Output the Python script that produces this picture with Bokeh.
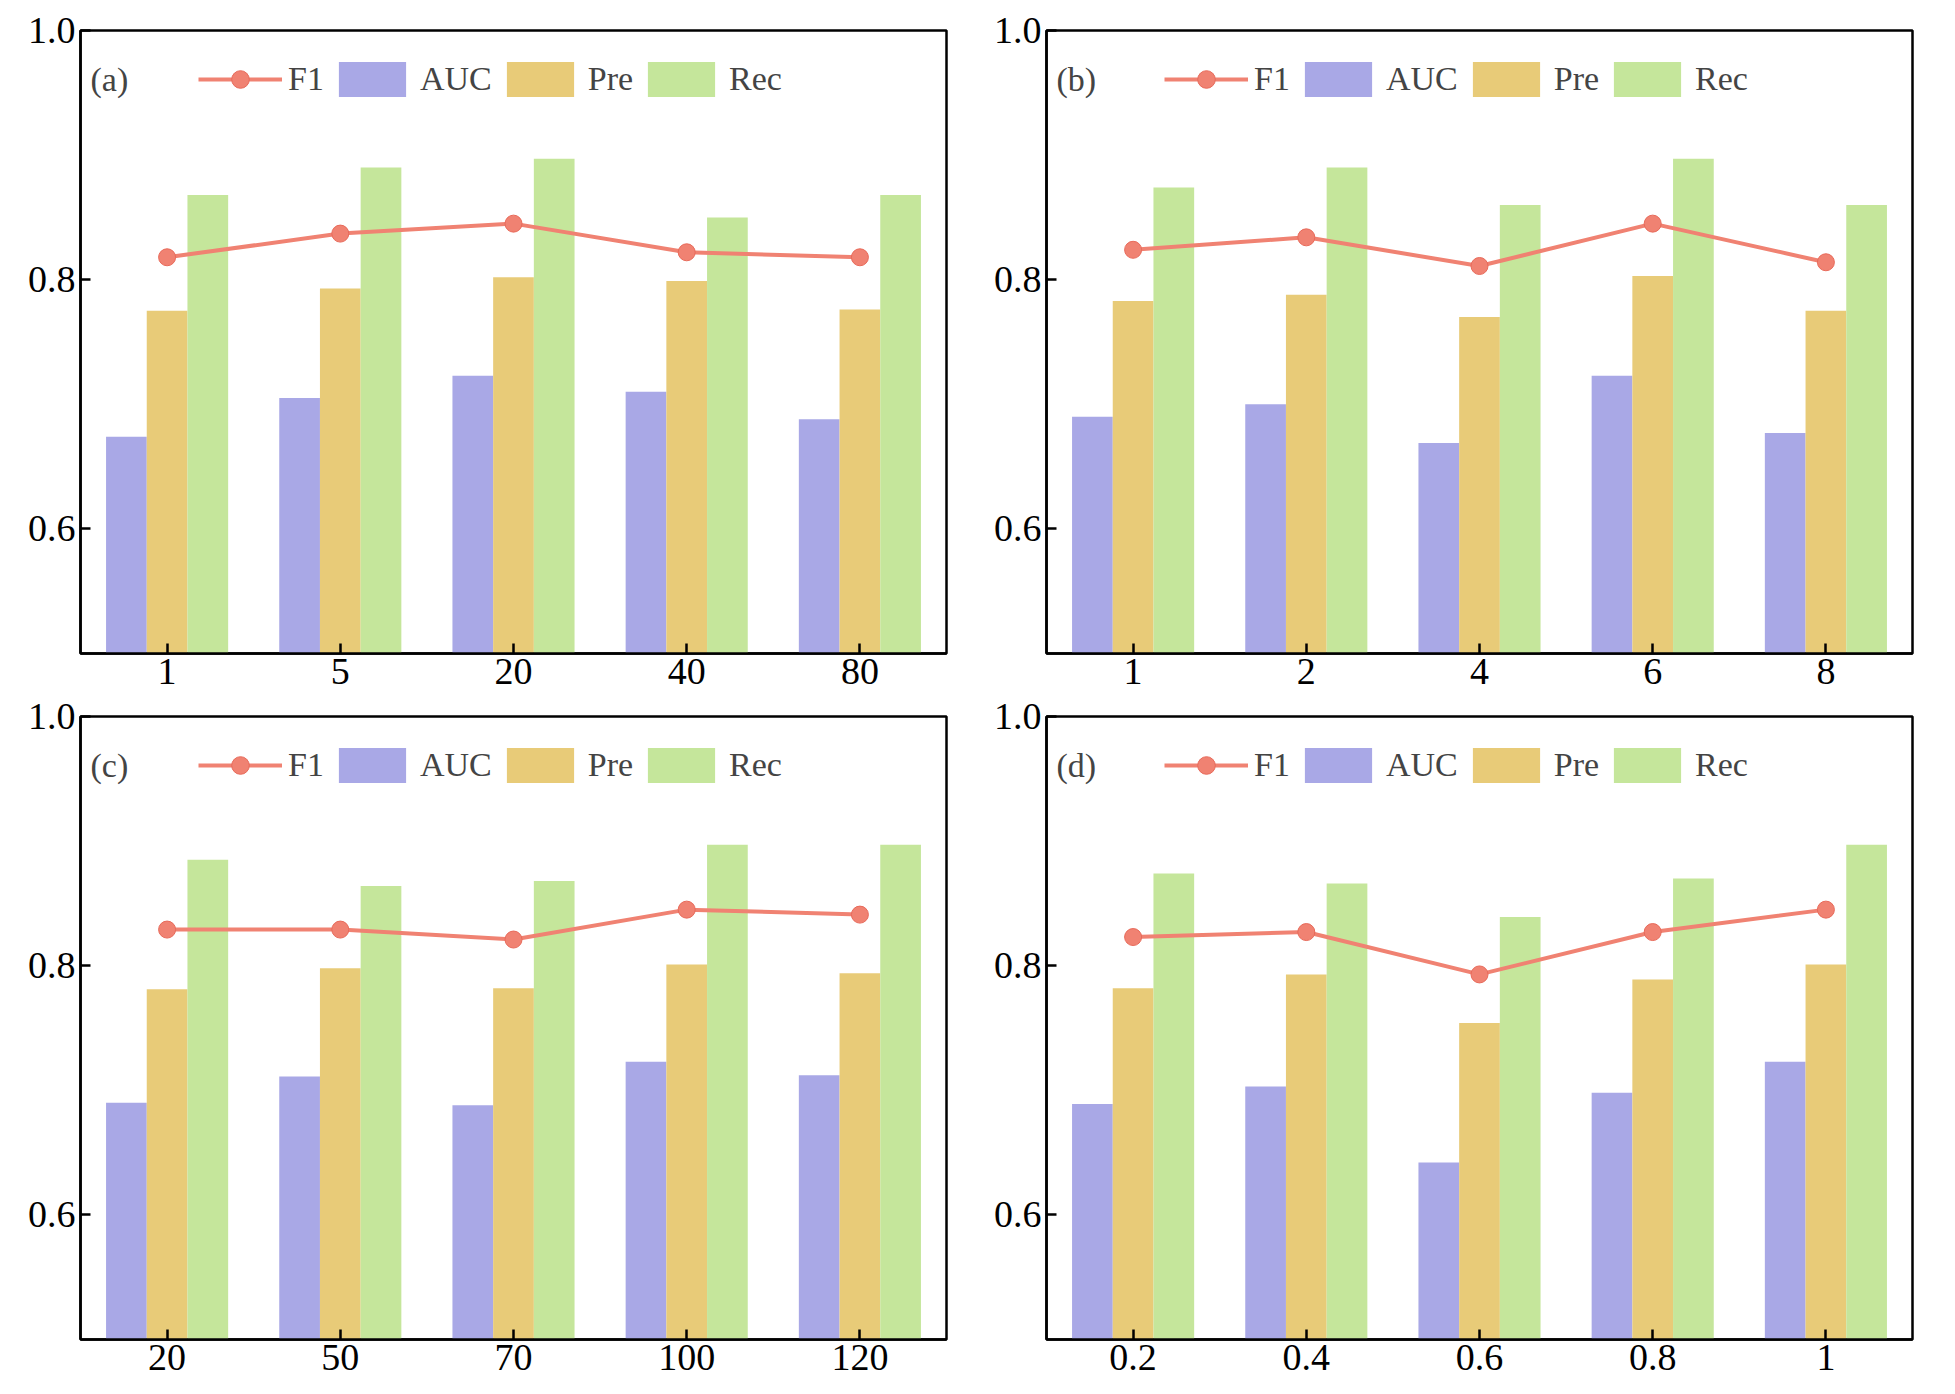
from bokeh.plotting import figure
from bokeh.layouts import gridplot
from bokeh.models import Range1d, FixedTicker, Legend, LegendItem, Label, CustomJSTickFormatter
from bokeh.transform import dodge
from bokeh.embed import file_html
from bokeh.resources import INLINE

cats_a = ["1", "5", "20", "40", "80"]
auc_a = [0.674, 0.705, 0.723, 0.710, 0.688]
pre_a = [0.775, 0.793, 0.802, 0.799, 0.776]
rec_a = [0.868, 0.890, 0.897, 0.850, 0.868]
f1_a = [0.818, 0.837, 0.845, 0.822, 0.818]

cats_b = ["1", "2", "4", "6", "8"]
auc_b = [0.690, 0.700, 0.669, 0.723, 0.677]
pre_b = [0.783, 0.788, 0.770, 0.803, 0.775]
rec_b = [0.874, 0.890, 0.860, 0.897, 0.860]
f1_b = [0.824, 0.834, 0.811, 0.845, 0.814]

cats_c = ["20", "50", "70", "100", "120"]
auc_c = [0.690, 0.711, 0.688, 0.723, 0.712]
pre_c = [0.781, 0.798, 0.782, 0.801, 0.794]
rec_c = [0.885, 0.864, 0.868, 0.897, 0.897]
f1_c = [0.829, 0.829, 0.821, 0.845, 0.841]

cats_d = ["0.2", "0.4", "0.6", "0.8", "1"]
auc_d = [0.689, 0.703, 0.642, 0.698, 0.723]
pre_d = [0.782, 0.793, 0.754, 0.789, 0.801]
rec_d = [0.874, 0.866, 0.839, 0.870, 0.897]
f1_d = [0.823, 0.827, 0.793, 0.827, 0.845]

C_AUC, C_PRE, C_REC, C_F1 = "#a9a8e6", "#e8cb78", "#c5e69b", "#f08272"
FONT = "Liberation Serif"

def panel(tag, cats, auc, pre, rec, f1):
    p = figure(x_range=cats, width=966, height=686, output_backend="svg",
               toolbar_location=None, min_border_left=80, min_border_right=20,
               min_border_top=30, min_border_bottom=20)
    p.y_range = Range1d(0.5, 1.0)
    data = dict(x=cats, auc=auc, pre=pre, rec=rec, f1=f1)
    w = 0.235
    r1 = p.vbar(x=dodge("x", -w, range=p.x_range), top="auc", bottom=0.5, width=w, source=data, color=C_AUC, line_color=None)
    r2 = p.vbar(x=dodge("x", 0, range=p.x_range), top="pre", bottom=0.5, width=w, source=data, color=C_PRE, line_color=None)
    r3 = p.vbar(x=dodge("x", w, range=p.x_range), top="rec", bottom=0.5, width=w, source=data, color=C_REC, line_color=None)
    l = p.line(x="x", y="f1", source=data, color=C_F1, line_width=4)
    c = p.scatter(x="x", y="f1", source=data, size=17, fill_color=C_F1, line_color="#e86a5a")
    leg = Legend(items=[LegendItem(label="F1", renderers=[l, c]),
                        LegendItem(label="AUC", renderers=[r1]),
                        LegendItem(label="Pre", renderers=[r2]),
                        LegendItem(label="Rec", renderers=[r3])],
                 orientation="horizontal", location=(118, 552),
                 glyph_width=84, glyph_height=44, label_text_font=FONT,
                 label_text_font_size="34px", background_fill_alpha=0,
                 border_line_color=None, spacing=6, label_standoff=6, padding=0, margin=0)
    p.add_layout(leg, "center")
    p.add_layout(Label(x=10, y=556, x_units="screen", y_units="screen", text=tag,
                       text_font=FONT, text_font_size="34px"))
    p.grid.visible = False
    p.outline_line_color = "black"
    p.outline_line_width = 2.5
    p.yaxis.ticker = FixedTicker(ticks=[0.6, 0.8, 1.0])
    p.yaxis.formatter = CustomJSTickFormatter(code="return tick.toFixed(1);")
    for ax in (p.xaxis[0], p.yaxis[0]):
        ax.major_label_text_font = FONT
        ax.major_label_text_font_size = "38px"
        ax.major_label_text_color = "black"
        ax.axis_line_width = 2.5
        ax.major_tick_in = 10
        ax.major_tick_out = 0
        ax.major_tick_line_width = 2.5
        ax.minor_tick_line_color = None
    return p

pa = panel("(a)", cats_a, auc_a, pre_a, rec_a, f1_a)
pb = panel("(b)", cats_b, auc_b, pre_b, rec_b, f1_b)
pc = panel("(c)", cats_c, auc_c, pre_c, rec_c, f1_c)
pd_ = panel("(d)", cats_d, auc_d, pre_d, rec_d, f1_d)

g = gridplot([[pa, pb], [pc, pd_]], toolbar_location=None)
open("out.html", "w").write(file_html(g, INLINE))
